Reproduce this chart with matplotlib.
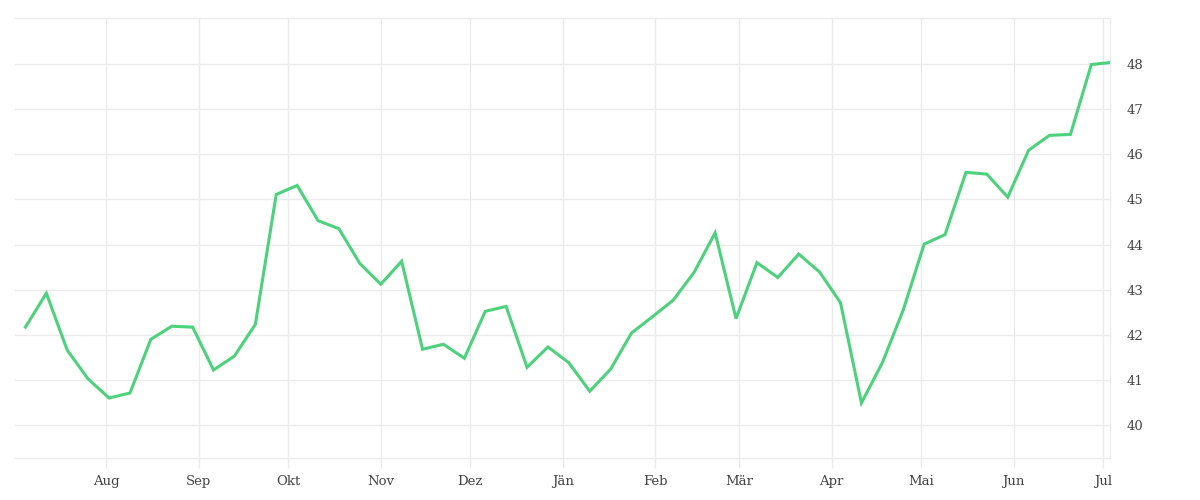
import matplotlib
matplotlib.use('Agg')
import matplotlib.pyplot as plt
import pandas as pd

# wöchentliche Werte, Juli bis Juli; der letzte Punkt ist eine angebrochene Woche
start_date = '2022-07-05'
last_date = '2023-07-03'
values = [42.17, 42.92, 41.66, 41.02, 40.60, 40.71, 41.90, 42.19, 42.17, 41.22,
          41.53, 42.23, 45.11, 45.31, 44.53, 44.35, 43.58, 43.12, 43.63, 41.68,
          41.79, 41.48, 42.52, 42.63, 41.28, 41.73, 41.38, 40.75, 41.24, 42.04,
          42.40, 42.77, 43.39, 44.26, 42.36, 43.60, 43.27, 43.79, 43.39, 42.71,
          40.49, 41.38, 42.55, 44.01, 44.22, 45.60, 45.56, 45.05, 46.09, 46.42,
          46.44, 47.99, 48.03]
month_labels = ['Aug', 'Sep', 'Okt', 'Nov', 'Dez', 'Jän', 'Feb', 'Mär', 'Apr', 'Mai', 'Jun', 'Jul']
y_ticks = [40, 41, 42, 43, 44, 45, 46, 47, 48]

dates = list(pd.date_range(start_date, periods=len(values) - 1, freq='7D')) + [pd.Timestamp(last_date)]
month_ticks = pd.date_range('2022-08-01', periods=len(month_labels), freq='MS')

grid_col = '#ebebeb'
text_col = '#444444'

fig = plt.figure(figsize=(12, 5), dpi=100)
ax = fig.add_axes([0.0125, 0.084, 0.9125, 0.88])

ax.plot(dates, values, color='#4cd27b', lw=2.2, solid_joinstyle='miter', zorder=3)

ax.set_xlim(pd.Timestamp('2022-07-01 12:00'), pd.Timestamp('2023-07-03 06:00'))
ax.set_ylim(39.27, 49.02)

ax.set_xticks(month_ticks)
ax.set_xticklabels(month_labels)
ax.set_yticks(y_ticks)
ax.yaxis.tick_right()

ax.grid(True, color=grid_col, lw=1)
ax.set_axisbelow(True)
for side in ['top', 'bottom', 'right']:
    ax.spines[side].set_color(grid_col)
    ax.spines[side].set_linewidth(1)
ax.spines['left'].set_visible(False)

ax.tick_params(axis='x', length=7, width=1, color=grid_col, pad=5,
               labelsize=9.5, labelcolor=text_col)
ax.tick_params(axis='y', length=0, pad=12, labelsize=9.5, labelcolor=text_col)
for lab in ax.get_xticklabels() + ax.get_yticklabels():
    lab.set_family('DejaVu Serif')

fig.savefig('out.png', dpi=100)
